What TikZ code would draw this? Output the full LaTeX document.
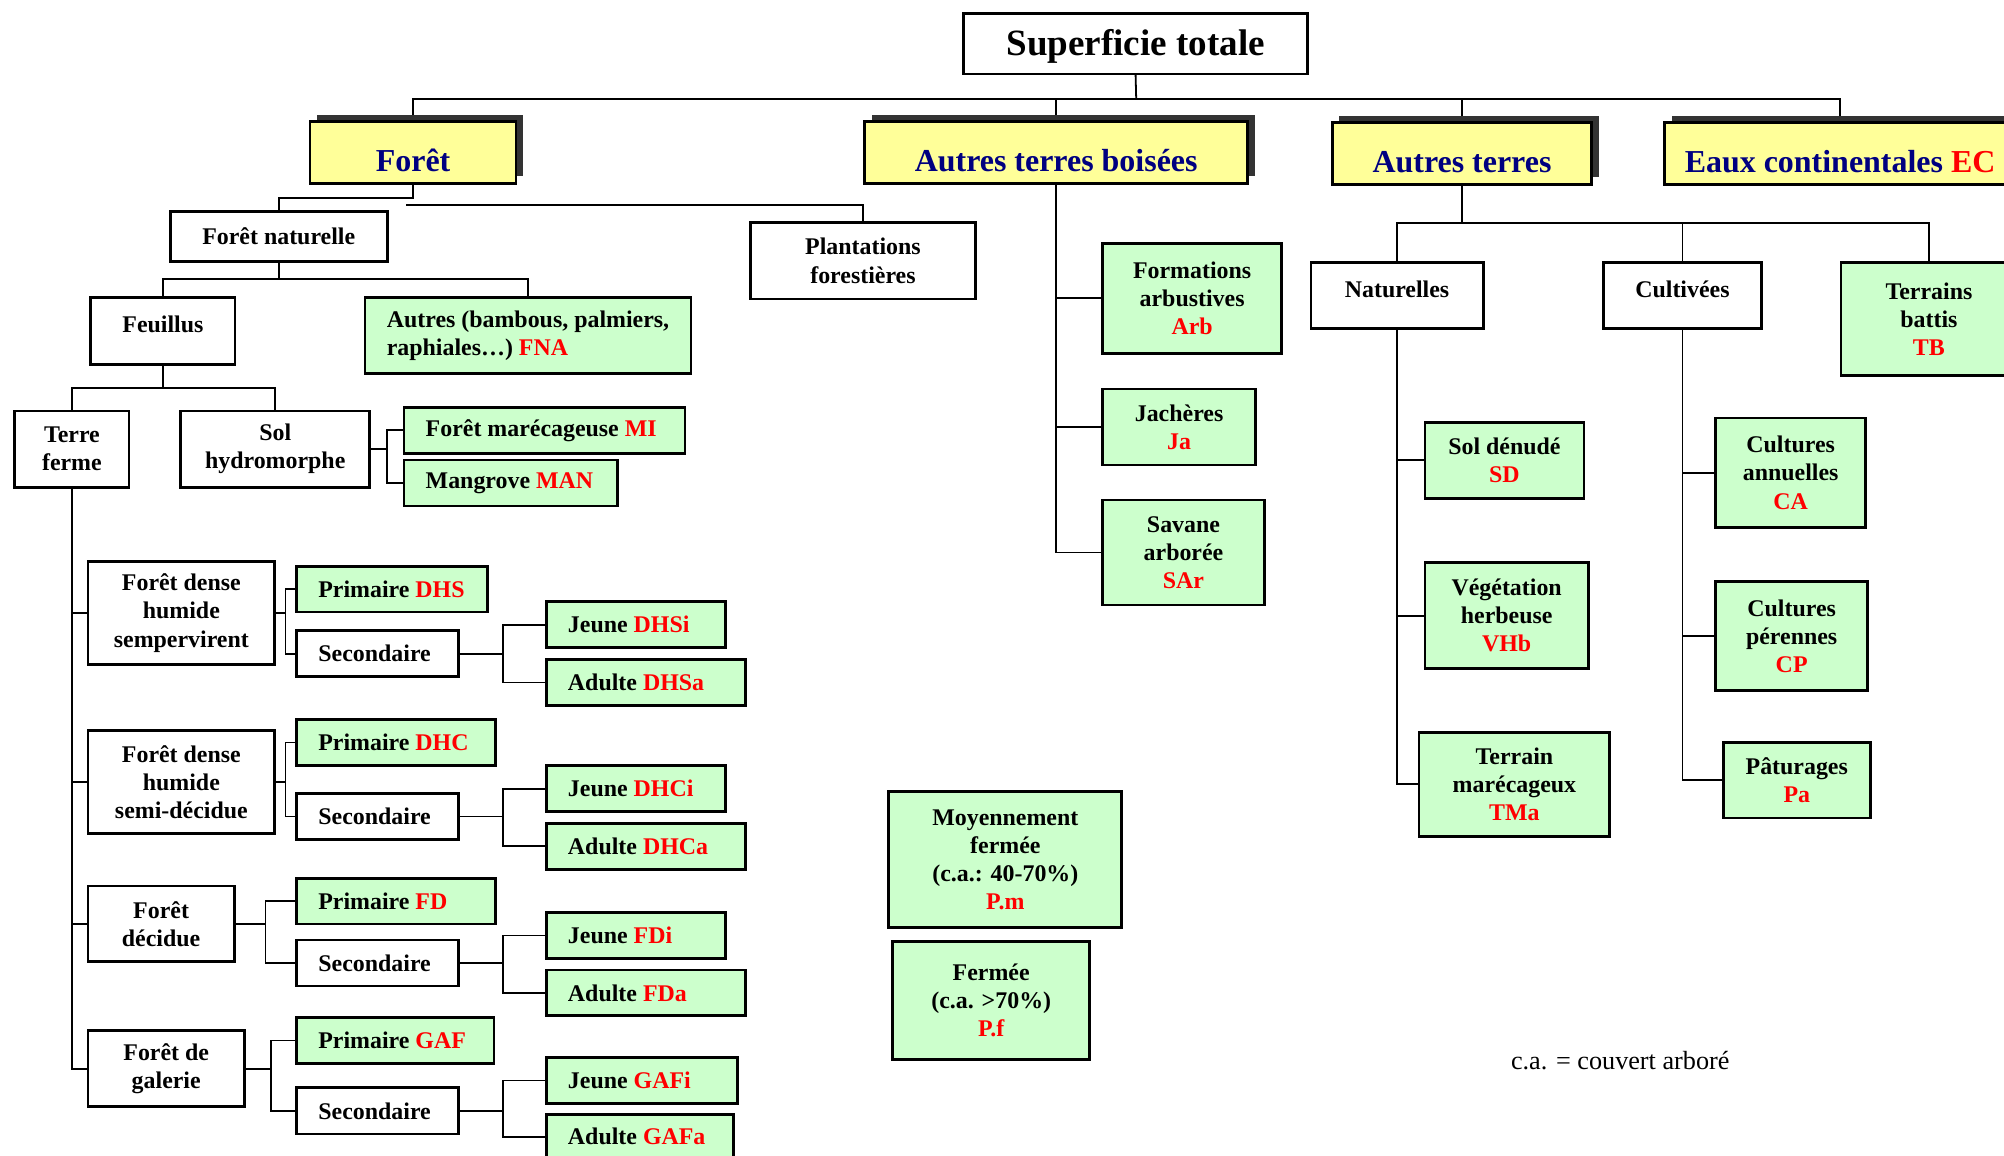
\documentclass[tikz,border=0pt]{standalone}
\usepackage{fontspec}
\setmainfont{Liberation Serif}
\usetikzlibrary{shadows,calc}
\definecolor{grn}{HTML}{CCFFCC}
\definecolor{yel}{HTML}{FFFF99}
\definecolor{navy}{HTML}{000080}
\pgfdeclarelayer{back}
\pgfdeclarelayer{bg}
\pgfsetlayers{back,bg,main}
\newcommand\rc[1]{\textcolor{red}{#1}}
\newcommand\sh[2]{\raisebox{#1}[\height][\depth]{#2}}
\newcommand\bx[7]{\node[#1, minimum width={#5-#3}, minimum height={#6-#4}] (#2) at ({(#3+#5)/2},{(#4+#6)/2}) {#7};}
\newcommand\bxl[7]{\node[#1, minimum width={#5-#3}, minimum height={#6-#4}] (#2) at ({(#3+#5)/2},{(#4+#6)/2}) {\makebox[\dimexpr #5pt-#3pt-34pt\relax][l]{#7}};}
\begin{document}
\begin{tikzpicture}[x=1pt,y=-1pt,
  basebox/.style={draw, line width=2.2pt, inner sep=0pt, outer sep=0pt, align=center,
    font=\bfseries\fontsize{18.7}{22}\selectfont},
  whitebox/.style={basebox, fill=white},
  greenbox/.style={basebox, fill=grn},
  yellowbox/.style={basebox, fill=yel, text=navy, font=\bfseries\fontsize{25}{28}\selectfont,
    drop shadow={shadow xshift=5.5pt, shadow yshift=5.5pt, fill=black!80, opacity=1}},
  link/.style={line width=1.4pt}]
\useasboundingbox (0,0) rectangle (1568,904);
\begin{pgfonlayer}{back}
\fill[white] (0,0) rectangle (1568,904);
\end{pgfonlayer}
\clip (0,0) rectangle (1568,904);

% top level
\bx{whitebox,font=\bfseries\fontsize{29}{32}\selectfont}{sup}{754}{10.4}{1023}{57.9}{\sh{-2pt}{Superficie totale}}
\bx{yellowbox}{foret}{242.6}{95.2}{403.8}{143.4}{\sh{-6.5pt}{Forêt}}
\bx{yellowbox}{atb}{676.7}{95.2}{976.1}{143.4}{\sh{-6.5pt}{Autres terres boisées}}
\bx{yellowbox}{at}{1042.4}{96}{1245.4}{144.2}{\sh{-6.5pt}{Autres terres}}
\bx{yellowbox}{eaux}{1302.5}{96}{1577}{144.2}{\sh{-6.5pt}{Eaux continentales \rc{EC}}}

% Foret
\bx{whitebox}{fn}{133.3}{165.6}{302.9}{204.7}{Forêt naturelle}
\bx{whitebox}{plant}{587.3}{174.2}{763.1}{234}{Plantations\\forestières}
\bx{whitebox}{feuil}{71.1}{232.7}{183.9}{285.1}{\sh{5.5pt}{Feuillus}}
\bx{greenbox,align=left}{fna}{285.6}{232.7}{540.7}{292.1}{Autres (bambous, palmiers,\\raphiales…) \rc{FNA}}
\bx{whitebox}{tf}{11.5}{321.6}{101}{381.3}{Terre\\ferme}
\bx{whitebox}{sol}{141.5}{321.6}{289.2}{381.3}{Sol\\hydromorphe}
\bxl{greenbox}{mi}{316.1}{318.7}{536}{354.7}{Forêt marécageuse \rc{MI}}
\bxl{greenbox}{man}{316.1}{359.9}{483.2}{395.9}{Mangrove \rc{MAN}}

% group 1
\bx{whitebox}{ga}{68.9}{439.5}{214.9}{519.8}{Forêt dense\\humide\\sempervirent}
\bxl{greenbox}{pa1}{232.1}{443.4}{381.6}{478.9}{Primaire \rc{DHS}}
\bxl{whitebox}{sa1}{232.1}{493.5}{358.9}{529.5}{Secondaire}
\bxl{greenbox}{ja1}{427.4}{470.8}{567.5}{506.8}{Jeune \rc{DHSi}}
\bxl{greenbox}{aa1}{427.4}{515.9}{583.2}{552.2}{Adulte \rc{DHSa}}
% group 2
\bx{whitebox}{gb}{68.9}{571.7}{214.9}{652.1}{Forêt dense\\humide\\semi-décidue}
\bxl{greenbox}{pb1}{232.1}{562.9}{387.6}{599.1}{Primaire \rc{DHC}}
\bxl{whitebox}{sb1}{232.1}{620.8}{358.9}{656.8}{Secondaire}
\bxl{greenbox}{jb1}{427.4}{599.1}{567.5}{635.1}{Jeune \rc{DHCi}}
\bxl{greenbox}{ab1}{427.4}{644.2}{583.2}{680.2}{Adulte \rc{DHCa}}
% group 3
\bx{whitebox}{gc}{68.9}{693.3}{183.2}{752.5}{Forêt\\décidue}
\bxl{greenbox}{pc1}{232.1}{687.3}{387.6}{723}{Primaire \rc{FD}}
\bxl{whitebox}{sc1}{232.1}{735.5}{358.9}{771.5}{Secondaire}
\bxl{greenbox}{jc1}{427.4}{713.9}{567.5}{749.9}{Jeune \rc{FDi}}
\bxl{greenbox}{ac1}{427.4}{759}{583.2}{794.7}{Adulte \rc{FDa}}
% group 4
\bx{whitebox}{gd}{68.9}{806.5}{191.2}{865.9}{Forêt de\\galerie}
\bxl{greenbox}{pd1}{232.1}{796.3}{386.5}{832}{Primaire \rc{GAF}}
\bxl{whitebox}{sd1}{232.1}{851.1}{358.9}{887.3}{Secondaire}
\bxl{greenbox}{jd1}{427.4}{827.6}{577.2}{863.3}{Jeune \rc{GAFi}}
\bxl{greenbox}{ad1}{427.4}{871.7}{573.7}{907.1}{Adulte \rc{GAFa}}

% Autres terres boisees
\bx{greenbox}{fa}{862.8}{190.4}{1002.7}{276.5}{Formations\\arbustives\\\rc{Arb}}
\bx{greenbox}{jach}{862.8}{304.4}{982.3}{363.8}{Jachères\\\rc{Ja}}
\bx{greenbox}{sar}{862.8}{391.2}{989.2}{473.4}{Savane\\arborée\\\rc{SAr}}

% Autres terres
\bx{whitebox}{nat}{1025.7}{205.3}{1160.5}{257.2}{\sh{5pt}{Naturelles}}
\bx{whitebox}{cult}{1254.5}{205.3}{1378.3}{257.2}{\sh{5pt}{Cultivées}}
\bx{greenbox}{tb}{1440.5}{205.3}{1578}{294}{Terrains\\battis\\\rc{TB}}
\bx{greenbox}{sdn}{1114.9}{330.3}{1239.3}{389.8}{Sol dénudé\\\rc{SD}}
\bx{greenbox}{vhb}{1114.9}{440.4}{1242.8}{523.1}{Végétation\\herbeuse\\\rc{VHb}}
\bx{greenbox}{tma}{1110.3}{572.9}{1259.6}{654.5}{Terrain\\marécageux\\\rc{TMa}}
\bx{greenbox}{ca}{1342.3}{327}{1459.9}{412.8}{Cultures\\annuelles\\\rc{CA}}
\bx{greenbox}{cp}{1342.3}{454.7}{1461.4}{540.5}{Cultures\\pérennes\\\rc{CP}}
\bx{greenbox}{pat}{1348.2}{580.7}{1463.5}{640}{Pâturages\\\rc{Pa}}

% densities
\bx{greenbox}{pm}{695.4}{619.5}{877.8}{725.6}{Moyennement\\fermée\\(c.a.: 40-70\%)\\\rc{P.m}}
\bx{greenbox}{pf}{698.5}{736.8}{852.6}{828.9}{Fermée\\(c.a. >70\%)\\\rc{P.f}}

\node[font=\fontsize{20.5}{24}\selectfont, inner sep=0pt] (note) at (1267.7,830) {c.a. = couvert arboré};

\begin{pgfonlayer}{bg}
% top bus
\coordinate (busA) at (889,77.3);
\draw[link] (sup.south) -- (busA);
\draw[link] (foret.north) |- (busA) -| (eaux.north);
\draw[link] (atb.north) |- (busA);
\draw[link] (at.north) |- (busA);
% Foret
\draw[link] (foret.south) -- ++(0,11.6) -| (fn.north);
\coordinate (plstart) at (318,160.4);
\draw[link] (plstart) -| (plant.north);
\draw[link] (fn.south) -- ++(0,13.6) coordinate (bfn);
\draw[link] (feuil.north) |- (bfn) -| (fna.north);
\draw[link] (feuil.south) -- ++(0,18.2) coordinate (bfe);
\draw[link] (tf.north) |- (bfe) -| (sol.north);
\draw[link] (sol.east) -- ++(13.7,0) coordinate (jsol);
\draw[link] (mi.west) -| (jsol) |- (man.west);
% Terre ferme trunk
\draw[link] (tf.south) |- (gd.west);
\draw[link] (ga.west) -- (ga.west -| tf.south);
\draw[link] (gb.west) -- (gb.west -| tf.south);
\draw[link] (gc.west) -- (gc.west -| tf.south);
% groups
\draw[link] (ga.east) -- ++(8.4,0) coordinate (ka);
\draw[link] (pa1.west) -| (ka) |- (sa1.west);
\draw[link] (sa1.east) -- ++(34.6,0) coordinate (la);
\draw[link] (ja1.west) -| (la) |- (aa1.west);
\draw[link] (gb.east) -- ++(8.4,0) coordinate (kb);
\draw[link] (pb1.west) -| (kb) |- (sb1.west);
\draw[link] (sb1.east) -- ++(34.6,0) coordinate (lb);
\draw[link] (jb1.west) -| (lb) |- (ab1.west);
\draw[link] (gc.east) -- ++(24.5,0) coordinate (kc);
\draw[link] (pc1.west) -| (kc) |- (sc1.west);
\draw[link] (sc1.east) -- ++(34.6,0) coordinate (lc);
\draw[link] (jc1.west) -| (lc) |- (ac1.west);
\draw[link] (gd.east) -- ++(20.6,0) coordinate (kd);
\draw[link] (pd1.west) -| (kd) |- (sd1.west);
\draw[link] (sd1.east) -- ++(34.6,0) coordinate (ld);
\draw[link] (jd1.west) -| (ld) |- (ad1.west);
% Autres terres boisees
\draw[link] (atb.south) |- (sar.west);
\draw[link] (fa.west) -- (fa.west -| atb.south);
\draw[link] (jach.west) -- (jach.west -| atb.south);
% Autres terres
\draw[link] (at.south) -- ++(0,30) coordinate (bat);
\draw[link] (nat.north) |- (bat) -| (tb.north);
\draw[link] (cult.north) |- (bat);
\draw[link] (nat.south) |- (tma.west);
\draw[link] (sdn.west) -- (sdn.west -| nat.south);
\draw[link] (vhb.west) -- (vhb.west -| nat.south);
\draw[link] (cult.south) |- (pat.west);
\draw[link] (ca.west) -- (ca.west -| cult.south);
\draw[link] (cp.west) -- (cp.west -| cult.south);
\end{pgfonlayer}
\end{tikzpicture}
\end{document}
